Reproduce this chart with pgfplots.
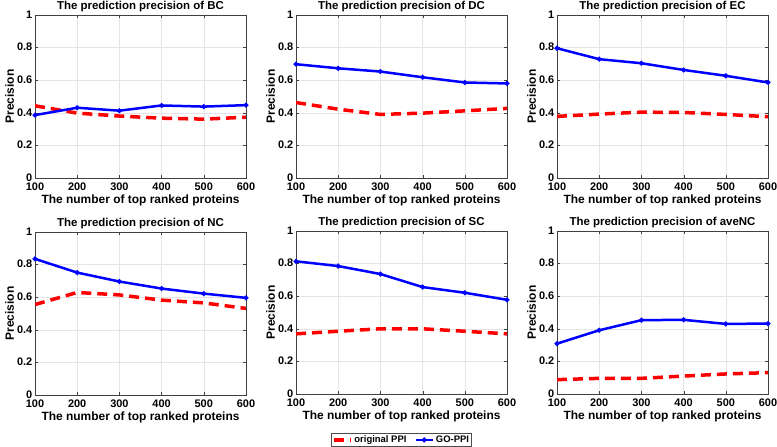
\documentclass[border=0pt]{standalone}
\usepackage{pgfplots}
\pgfplotsset{compat=1.18}
\usepackage{fontspec}
\setmainfont{Liberation Sans}

\pgfplotsset{
 precax/.style={
  scale only axis, width=211bp, height=163bp,
  xmin=100,xmax=600,ymin=0,ymax=1,
  xtick={100,200,300,400,500,600}, ytick={0,0.2,0.4,0.6,0.8,1},
  grid=major, major grid style={gray!20, line width=0.4pt},
  axis line style={black!75, line width=0.5pt},
  tick align=inside, major tick length=3bp,
  tick style={black!75},
  /pgf/number format/assume math mode=true,
  ticklabel style={font=\fontsize{11}{12}\selectfont\bfseries},
  xticklabel style={yshift=-4bp, inner sep=1bp},
  yticklabel style={inner sep=1.5bp, xshift=-1bp, yshift=0.5bp},
  label style={font=\fontsize{12}{14}\selectfont\bfseries},
  xlabel style={yshift=1bp},
  ylabel style={yshift=-2bp},
  title style={font=\fontsize{11.5}{13}\selectfont\bfseries, yshift=-6bp},
  xlabel={The number of top ranked proteins},
  ylabel={Precision},
  anchor=south west,
 },
 orig/.style={red, line width=3.5bp, dash pattern=on 10bp off 6bp, no marks},
 gopp/.style={blue, line width=2.5bp, mark=*, mark size=1bp},
}

\begin{document}
\begin{tikzpicture}
\useasboundingbox (0,0) rectangle (777bp,447bp);

% BC
\begin{axis}[precax, at={(35bp,269bp)}, title={The prediction precision of BC}]
\addplot[orig] coordinates {(100,0.443) (200,0.398) (300,0.380) (400,0.367) (500,0.361) (600,0.373)};
\addplot[gopp] coordinates {(100,0.386) (200,0.431) (300,0.413) (400,0.445) (500,0.438) (600,0.447)};
\end{axis}

% DC
\begin{axis}[precax, at={(296bp,269bp)}, title={The prediction precision of DC}]
\addplot[orig] coordinates {(100,0.463) (200,0.422) (300,0.390) (400,0.398) (500,0.412) (600,0.427)};
\addplot[gopp] coordinates {(100,0.698) (200,0.673) (300,0.653) (400,0.618) (500,0.586) (600,0.580)};
\end{axis}

% EC
\begin{axis}[precax, at={(557bp,269bp)}, title={The prediction precision of EC}]
\addplot[orig] coordinates {(100,0.378) (200,0.392) (300,0.404) (400,0.402) (500,0.390) (600,0.376)};
\addplot[gopp] coordinates {(100,0.796) (200,0.729) (300,0.704) (400,0.663) (500,0.627) (600,0.586)};
\end{axis}

% NC
\begin{axis}[precax, at={(35bp,52bp)}, title={The prediction precision of NC}]
\addplot[orig] coordinates {(100,0.555) (200,0.629) (300,0.614) (400,0.582) (500,0.565) (600,0.531)};
\addplot[gopp] coordinates {(100,0.835) (200,0.751) (300,0.696) (400,0.653) (500,0.622) (600,0.596)};
\end{axis}

% SC
\begin{axis}[precax, at={(296bp,53bp)}, title={The prediction precision of SC},
  legend style={at={(0.5,-0.24)}, anchor=north, legend columns=2,
    font=\fontsize{9.5}{10}\selectfont\bfseries, draw=black!70, inner sep=0.5bp,
    /tikz/every even column/.append style={column sep=6bp}}]
\addplot[orig] coordinates {(100,0.369) (200,0.385) (300,0.400) (400,0.400) (500,0.385) (600,0.369)};
\addlegendentry{original PPI}
\addplot[gopp] coordinates {(100,0.814) (200,0.785) (300,0.736) (400,0.656) (500,0.621) (600,0.578)};
\addlegendentry{GO-PPI}
\end{axis}

% aveNC
\begin{axis}[precax, at={(557bp,53bp)}, title={The prediction precision of aveNC}]
\addplot[orig] coordinates {(100,0.088) (200,0.096) (300,0.096) (400,0.110) (500,0.123) (600,0.131)};
\addplot[gopp] coordinates {(100,0.309) (200,0.391) (300,0.453) (400,0.455) (500,0.430) (600,0.432)};
\end{axis}
\end{tikzpicture}
\end{document}
